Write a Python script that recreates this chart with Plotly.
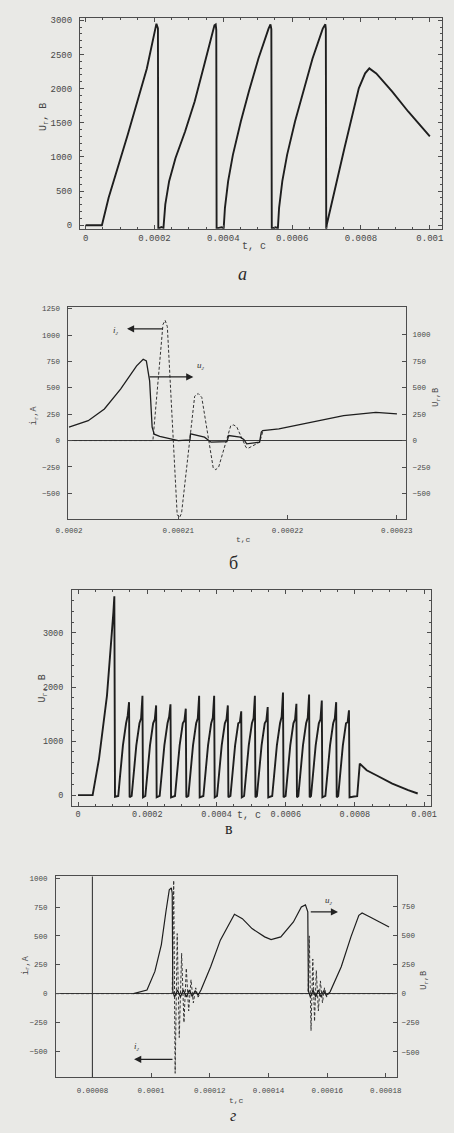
import plotly.graph_objects as go

# ---------------- data (time in microseconds) ----------------
# panel a : Uг(t)
A_T = [0, 47.2, 66.7, 122.2, 177.8, 200.8, 205.6, 210.0, 211.1, 215.0, 220.0, 226.0,
       231.4, 242.5, 261.1, 288.9, 316.7, 344.4, 366.7, 374.2, 377.8, 379.5, 380.5,
       385.0, 395.0, 401.0, 404.7, 414.0, 427.8, 450.8, 474.2, 502.0, 531.4, 537.0,
       539.5, 540.8, 545.0, 552.0, 558.5, 562.0, 571.4, 585.3, 608.3, 631.4, 659.2,
       688.9, 696.4, 697.8, 699.0, 700.8, 752.0, 793.6, 812.0, 824.2, 844.4, 890.8,
       937.0, 1000.0]
A_U = [0, 0, 402, 1325, 2295, 2800, 2950, 2880, -70, -40, -25, -40,
       306, 645, 985, 1373, 1810, 2345, 2800, 2927, 2940, 2860, -80,
       -40, -30, -45, 256, 645, 1030, 1519, 1956, 2441, 2878, 2940,
       2870, -80, -40, -30, -45, 256, 645, 1030, 1519, 1956, 2441,
       2878, 2940, 2870, -60, 15, 1130, 2004, 2223, 2296, 2223, 1956,
       1665, 1300]

# panel б : uг (solid, right axis) and iг (dashed, left axis)
B_U_T = [200.00, 201.76, 203.24, 204.72, 206.19, 206.79, 207.08, 207.38, 207.61, 207.80,
         208.30, 209.40, 210.00, 211.07, 211.12, 212.40, 212.85, 213.00, 214.45, 214.62,
         215.66, 216.00, 216.26, 217.00, 217.44, 217.60, 217.73, 219.21, 222.17, 225.13,
         228.08, 230.01]
B_U = [126, 188, 298, 486, 705, 768, 752, 564, 126, 60,
       40, 16, 0, 7, 63, 32, 0, -15, -10, 47,
       32, 10, -31, -20, -15, 80, 94, 110, 173, 235,
       267, 251]
B_I_T = [200.00, 207.68, 208.60, 208.80, 209.00, 209.90, 210.10, 210.30, 211.50, 211.82,
         212.15, 213.20, 213.44, 213.70, 214.80, 215.07, 215.35, 216.20, 216.40, 216.65,
         217.45, 217.75]
B_I = [0, 0, 1100, 1140, 1080, -700, -733, -690, 420, 446,
       410, -260, -276, -250, 140, 148, 130, -65, -73, -60,
       -15, 90]

# panel в : Uг(t)
C_T = [0.0, 42.3, 60.8, 83.7, 102.2, 105.0, 106.9, 112.0,
       116.3, 120.7, 129.8, 138.9, 143.6, 147.5, 149.1,
       155.0, 159.4, 168.5, 177.6, 182.3, 186.2, 187.8,
       194.5, 198.9, 208.0, 217.1, 221.8, 225.7, 227.3,
       236.0, 240.4, 249.5, 258.6, 263.3, 267.2, 268.8,
       280.2, 284.6, 293.7, 302.8, 307.5, 311.4, 313.0,
       318.8, 323.2, 332.3, 341.4, 346.1, 350.0, 351.6,
       362.2, 366.6, 375.7, 384.8, 389.5, 393.4, 395.0,
       401.7, 406.1, 415.2, 424.3, 429.0, 432.9, 434.5,
       440.4, 444.8, 453.9, 463.0, 467.7, 471.6, 473.2,
       479.9, 484.3, 493.4, 502.5, 507.2, 511.1, 512.7,
       516.9, 521.3, 530.4, 539.5, 544.2, 548.1, 549.7,
       561.1, 565.5, 574.6, 583.7, 588.4, 592.3, 593.9,
       599.8, 604.2, 613.3, 622.4, 627.1, 631.0, 632.6,
       636.5, 640.9, 650.0, 659.1, 663.8, 667.7, 669.3,
       673.2, 677.6, 686.7, 695.8, 700.5, 704.4, 706.0,
       714.7, 719.1, 728.2, 737.3, 742.0, 745.9, 747.5,
       751.7, 756.1, 765.2, 774.3, 779.0, 782.9, 784.5,
       797.5, 806.6, 814.1, 834.0, 861.9, 908.0, 953.9, 981.5]
C_U = [0, 0, 676, 1842, 3377, 3680, -30, -25,
       -15, 300, 920, 1330, 1470, 1720, -40,
       -15, 300, 920, 1330, 1420, 1840, -40,
       -15, 300, 920, 1330, 1400, 1660, -40,
       -15, 300, 920, 1330, 1450, 1680, -40,
       -15, 300, 920, 1330, 1380, 1600, -40,
       -15, 300, 920, 1330, 1420, 1840, -40,
       -15, 300, 920, 1330, 1430, 1840, -40,
       -15, 300, 920, 1330, 1400, 1660, -40,
       -15, 300, 920, 1330, 1350, 1550, -40,
       -15, 300, 920, 1330, 1420, 1840, -40,
       -15, 300, 920, 1330, 1380, 1630, -40,
       -15, 300, 920, 1330, 1450, 1900, -40,
       -15, 300, 920, 1330, 1400, 1690, -40,
       -15, 300, 920, 1330, 1430, 1860, -40,
       -15, 300, 920, 1330, 1400, 1750, -40,
       -15, 300, 920, 1330, 1420, 1720, -40,
       -15, 300, 920, 1330, 1350, 1570, -40,
       -25, -20, 584, 460, 368, 215, 92, 31]

# panel г : uг (solid, right axis) and iг (dashed, left axis)
D_U_T = [94.0, 98.6, 101.3, 103.5, 105.1, 106.2, 106.9, 107.2, 107.4, 108.0,
         109.0, 110.0, 111.0, 112.0, 113.0, 114.0, 115.0, 116.0, 117.0, 120.3,
         123.6, 126.8, 128.4, 131.1, 134.4, 138.7, 140.9, 144.2, 148.5, 151.2,
         152.6, 153.4, 153.6, 154.3, 155.2, 156.1, 157.0, 157.9, 158.8, 159.7,
         161.0, 164.8, 168.1, 170.8, 171.9, 174.6, 177.8, 181.1]
D_U = [0, 30, 190, 420, 710, 890, 905, 860, 20, -30,
       30, -30, 30, -30, 30, -25, 25, -15, 30, 230,
       458, 614, 680, 642, 557, 486, 463, 486, 614, 742,
       760, 700, 20, -30, 30, -30, 30, -30, 25, -15,
       15, 230, 486, 671, 691, 657, 614, 571]
D_I_T = [67.6, 107.2, 107.7, 108.2, 108.9, 109.6, 110.4, 111.2, 112.0, 112.8,
         113.6, 114.4, 115.2, 116.0, 116.8, 153.5, 153.9, 154.5, 155.1, 155.7,
         156.3, 157.0, 157.7, 158.4, 159.1, 159.8, 160.5, 183.8]
D_I = [0, 0, 980, -690, 520, -380, 350, -250, 220, -150,
       120, -80, 50, -30, 0, 0, 500, -320, 300, -240,
       200, -150, 110, -80, 50, -30, 0, 0]

# tick labels
A_XTICKS = [0, 200, 400, 600, 800, 1000]
A_XLABELS = ["0", "0.0002", "0.0004", "0.0006", "0.0008", "0.001"]
A_YTICKS = [0, 500, 1000, 1500, 2000, 2500, 3000]
B_XTICKS = [200, 210, 220, 230]
B_XLABELS = ["0.0002", "0.00021", "0.00022", "0.00023"]
B_YTICKS_L = [-500, -250, 0, 250, 500, 750, 1000, 1250]
B_YTICKS_R = [-500, -250, 0, 250, 500, 750, 1000]
C_YTICKS = [0, 1000, 2000, 3000]
D_XTICKS = [80, 100, 120, 140, 160, 180]
D_XLABELS = ["0.00008", "0.0001", "0.00012", "0.00014", "0.00016", "0.00018"]
D_YTICKS_L = [-500, -250, 0, 250, 500, 750, 1000]
D_YTICKS_R = [-500, -250, 0, 250, 500, 750]

# ---------------- layout helpers ----------------
W, H = 454, 1133
BG = "#e9e9e6"
INK = "#1e1e1e"
FRAME = "#4d4d4d"
TXT = "#474747"
MONO = "Liberation Mono, DejaVu Sans Mono, monospace"
SERIF = "Liberation Serif, DejaVu Serif, serif"


def fx(x):
    return x / W


def fy(y):
    return 1 - y / H


def ax_style(size, **kw):
    d = dict(showline=True, linecolor=FRAME, linewidth=1, ticks="inside", ticklen=4,
             tickcolor=FRAME, tickwidth=1, showgrid=False, zeroline=False,
             tickfont=dict(family=MONO, size=size, color=TXT), ticklabelstandoff=3,
             ticklabeloverflow="allow")
    d.update(kw)
    return d


fig = go.Figure()
fig.add_trace(go.Scatter(x=A_T, y=A_U, mode="lines", line=dict(color=INK, width=1.9),
                         xaxis="x", yaxis="y", showlegend=False))
fig.add_trace(go.Scatter(x=B_I_T, y=B_I, mode="lines",
                         line=dict(color="#333333", width=1.0, dash="3px,2px"),
                         xaxis="x2", yaxis="y2", showlegend=False))
fig.add_trace(go.Scatter(x=B_U_T, y=B_U, mode="lines", line=dict(color=INK, width=1.3),
                         xaxis="x2", yaxis="y5", showlegend=False))
fig.add_trace(go.Scatter(x=C_T, y=C_U, mode="lines", line=dict(color=INK, width=1.9),
                         xaxis="x3", yaxis="y3", showlegend=False))
fig.add_trace(go.Scatter(x=D_I_T, y=D_I, mode="lines",
                         line=dict(color="#333333", width=1.0, dash="3px,2px"),
                         xaxis="x4", yaxis="y4", showlegend=False))
fig.add_trace(go.Scatter(x=D_U_T, y=D_U, mode="lines", line=dict(color=INK, width=1.2),
                         xaxis="x4", yaxis="y6", showlegend=False))

layout = dict(
    width=W, height=H, margin=dict(l=0, r=0, t=0, b=0),
    paper_bgcolor=BG, plot_bgcolor=BG, showlegend=False,
    # panel a
    xaxis=ax_style(9, domain=[fx(70), fx(449)], anchor="y", range=[-16.7, 1036],
                   tickvals=A_XTICKS, ticktext=A_XLABELS, mirror="ticks", ticklabelstandoff=1,
                   minor=dict(ticks="inside", ticklen=2, dtick=50, tickcolor=FRAME)),
    yaxis=ax_style(9, domain=[fy(227.7), fy(16)], anchor="x", range=[-50, 3034],
                   tickvals=A_YTICKS, mirror="ticks", ticklabelstandoff=5,
                   minor=dict(ticks="inside", ticklen=2, dtick=100, tickcolor=FRAME)),
    # panel б
    xaxis2=ax_style(7.5, domain=[fx(58), fx(411)], anchor="y2", range=[199.951, 230.83],
                    tickvals=B_XTICKS, ticktext=B_XLABELS, mirror=True, ticklabelstandoff=4),
    yaxis2=ax_style(7.5, domain=[fy(519), fy(306.7)], anchor="x2", range=[-741, 1263],
                    tickvals=B_YTICKS_L, zeroline=True, zerolinecolor="#3a3a3a",
                    zerolinewidth=1.1, ticklabelstandoff=6),
    yaxis5=ax_style(7.5, overlaying="y2", side="right", anchor="x2", range=[-738, 1258],
                    tickvals=B_YTICKS_R, ticklabelstandoff=4),
    # panel в
    xaxis3=ax_style(8.5, domain=[fx(61.7), fx(437.3)], anchor="y3", range=[-17.4, 1020],
                    tickvals=A_XTICKS, ticktext=A_XLABELS, mirror="ticks", ticklabelstandoff=0,
                    minor=dict(ticks="inside", ticklen=2, dtick=50, tickcolor=FRAME)),
    yaxis3=ax_style(8.5, domain=[fy(807.7), fy(591)], anchor="x3", range=[-203, 3788],
                    tickvals=C_YTICKS, mirror="ticks", ticklabelstandoff=6,
                    minor=dict(ticks="inside", ticklen=2, dtick=200, tickcolor=FRAME)),
    # panel г
    xaxis4=ax_style(7.5, domain=[fx(45), fx(401.7)], anchor="y4", range=[67.6, 183.8],
                    tickvals=D_XTICKS, ticktext=D_XLABELS, mirror=True, ticklabelstandoff=6),
    yaxis4=ax_style(7.5, domain=[fy(1080), fy(878.3)], anchor="x4", range=[-724, 1015],
                    tickvals=D_YTICKS_L, zeroline=True, zerolinecolor="#3a3a3a",
                    zerolinewidth=1.1, ticklabelstandoff=6),
    yaxis6=ax_style(7.5, overlaying="y4", side="right", anchor="x4", range=[-717, 1004],
                    tickvals=D_YTICKS_R, ticklabelstandoff=2),
)
fig.update_layout(**layout)

# vertical axis line at t = 0.00008 in panel г
fig.add_shape(type="line", xref="x4", yref="y4 domain", x0=80, x1=80, y0=0, y1=1,
              line=dict(color="#3a3a3a", width=1.1))

ann = []


def txt(x, y, s, size=10, family=MONO, angle=0, color=TXT):
    ann.append(dict(x=fx(x), y=fy(y), xref="paper", yref="paper", text=s, showarrow=False,
                    font=dict(family=family, size=size, color=color), textangle=angle,
                    xanchor="center", yanchor="middle"))


# axis titles
txt(33, 116, "U<sub>г</sub>, В", 10, angle=-90)
txt(252, 246, "t, с", 10)
txt(22, 415, "i<sub>г</sub>,A", 8.5, angle=-90)
txt(443, 397, "U<sub>г</sub>,В", 8.5, angle=-90)
txt(241, 540, "t,с", 8)
txt(31, 690, "U<sub>г</sub>, В", 10, angle=-90)
txt(247, 817, "t, с", 10)
txt(14, 967, "i<sub>г</sub>,A", 8.5, angle=-90)
txt(431, 983, "U<sub>г</sub>,В", 8.5, angle=-90)
txt(234, 1103, "t,с", 8)

# panel letters
txt(240, 273, "<i>а</i>", 18, SERIF, color="#2a2a2a")
txt(231, 563, "б", 18, SERIF, color="#2a2a2a")
txt(226, 830, "в", 16, SERIF, color="#2a2a2a")
txt(230, 1118, "<i>г</i>", 16, SERIF, color="#2a2a2a")

# arrow labels
txt(108, 330, "<i>i<sub>г</sub></i>", 9, SERIF, color="#333")
txt(197, 365, "<i>u<sub>г</sub></i>", 9, SERIF, color="#333")
txt(130, 1049, "<i>i<sub>г</sub></i>", 9, SERIF, color="#333")
txt(331, 902, "<i>u<sub>г</sub></i>", 9, SERIF, color="#333")


def arrow(xr, yr, x_head, y_head, x_tail, y_tail):
    ann.append(dict(x=x_head, y=y_head, ax=x_tail, ay=y_tail, xref=xr, yref=yr,
                    axref=xr, ayref=yr, text="", showarrow=True, arrowhead=2,
                    arrowsize=1.3, arrowwidth=1.1, arrowcolor="#222"))


arrow("x2", "y2", 205.31, 1059, 208.71, 1059)
arrow("x2", "y5", 211.38, 601, 207.23, 601)
arrow("x4", "y4", 94.2, -569, 107.8, -569)
arrow("x4", "y6", 163.7, 700, 153.9, 700)

fig.update_layout(annotations=ann)
fig.write_html("out.html", config={"displayModeBar": False},
               post_script="document.body.style.margin='0';document.body.style.overflow='hidden';")
